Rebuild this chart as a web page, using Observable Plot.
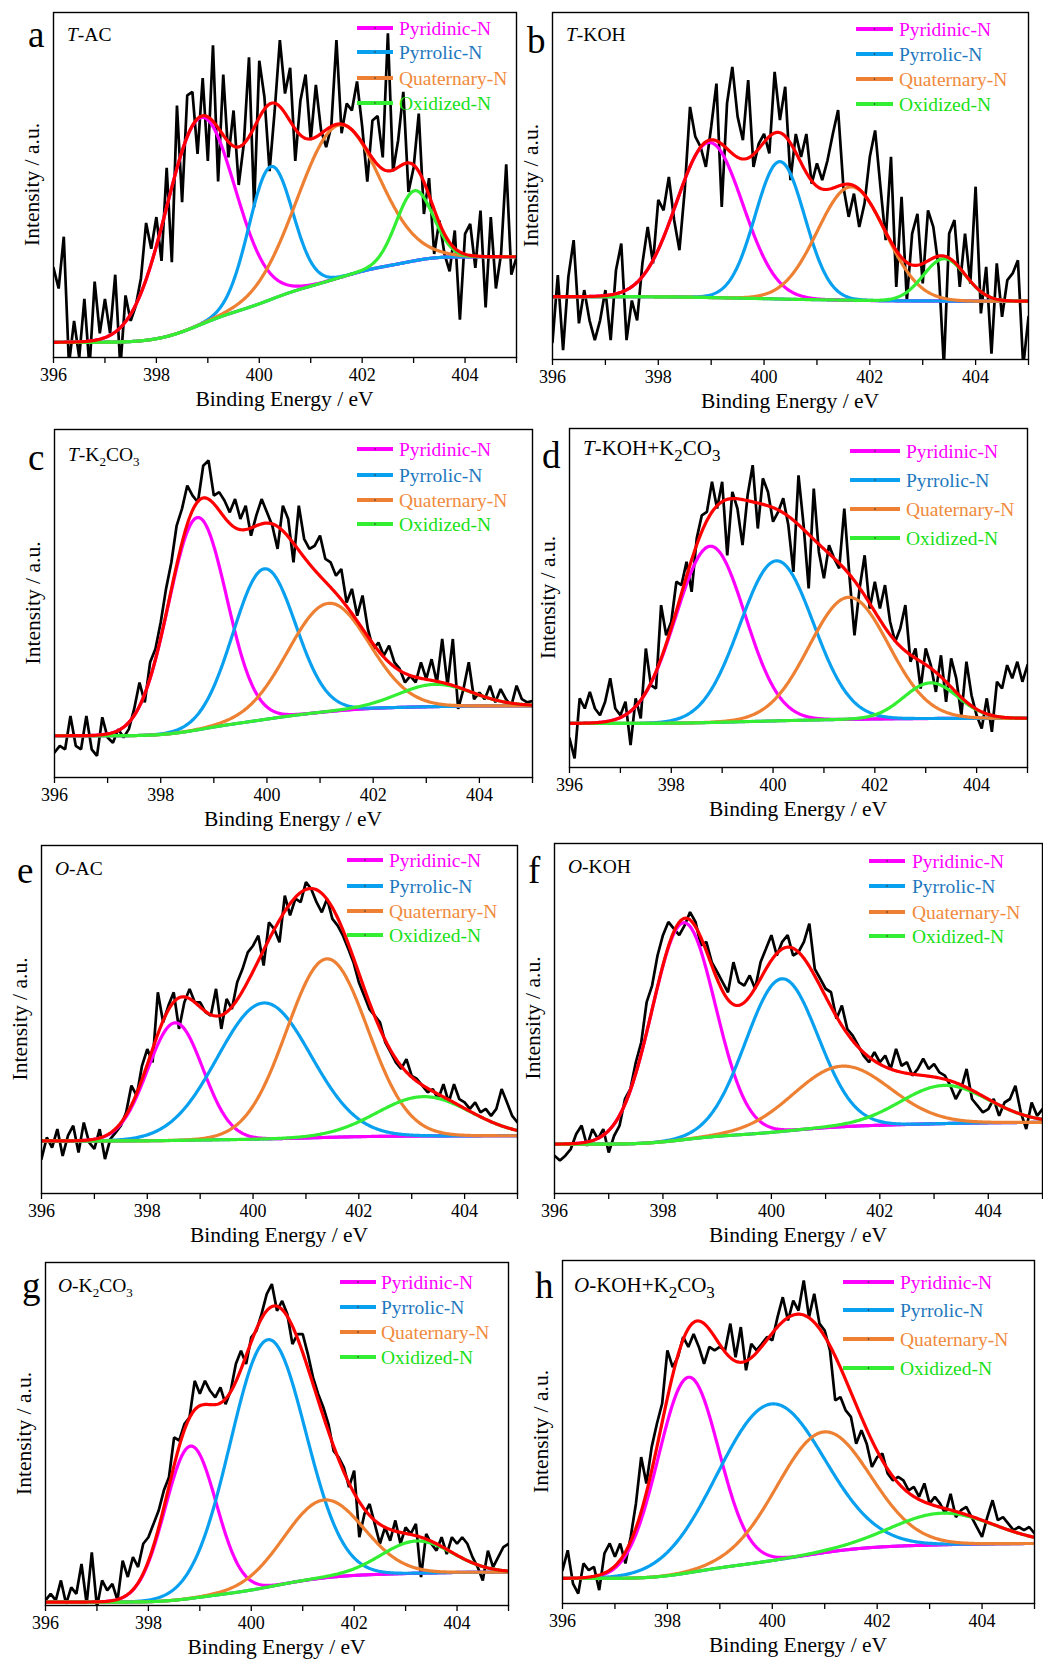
<!DOCTYPE html>
<html><head><meta charset="utf-8">
<script src="https://cdn.jsdelivr.net/npm/d3@7"></script>
<script src="https://cdn.jsdelivr.net/npm/@observablehq/plot@0.6"></script>
<style>
html,body{margin:0;padding:0;background:#fff;overflow:hidden}
#root{position:relative;width:1043px;height:1660px;background:#fff;overflow:hidden}
.panel{position:absolute}
#overlay{position:absolute;left:0;top:0;pointer-events:none}
</style></head><body><div id="root"></div>
<script>
// ---------- data ----------
const energy = [396.0,396.1,396.2,396.3,396.4,396.5,396.6,396.7,396.8,396.9,
397.0,397.1,397.2,397.3,397.4,397.5,397.6,397.7,397.8,397.9,
398.0,398.1,398.2,398.3,398.4,398.5,398.6,398.7,398.8,398.9,
399.0,399.1,399.2,399.3,399.4,399.5,399.6,399.7,399.8,399.9,
400.0,400.1,400.2,400.3,400.4,400.5,400.6,400.7,400.8,400.9,
401.0,401.1,401.2,401.3,401.4,401.5,401.6,401.7,401.8,401.9,
402.0,402.1,402.2,402.3,402.4,402.5,402.6,402.7,402.8,402.9,
403.0,403.1,403.2,403.3,403.4,403.5,403.6,403.7,403.8,403.9,
404.0,404.1,404.2,404.3,404.4,404.5,404.6,404.7,404.8,404.9,405.0];

const rawA = [26,20,35,-2,10.6,0,17,-3,22,7, 17,7,24,-3,18,10.6,15,23,39,31.5,
40.7,28,55,27.6,73,45,76,77,59,81, 57,90.5,51,82,58,71.6,50,62,87,43.6,
86,75.5,54,71.6,92,76.5,84,57,74.5,82, 63,79,66,61,67,92,65,73.6,71.6,80,
67,51,68.7,70,58,94,54,63,77,48, 55,70.7,41.6,52,30,39.7,30,25,36.8,11,
35.8,38.7,26,42.6,14.5,40.7,20,30,56,24,29];
const rawB = [5,24.3,2.7,23.8,34.4,10.4,20,11.3,5.6,11.3, 20,5.6,25.7,33.4,5.6,17,11.3,27.7,38.2,27.7,
46,43,52.6,40.2,31.5,48.8,72.8,64.2,61.3,55.5, 67,79.5,44,73.8,84.3,70,63.2,80.5,55.5,62.2,
65,59.4,82.9,69,78.6,51.7,65,58.4,65,50.7, 56.5,51.7,57.4,65,71.9,49.8,41.1,47.8,38.2,45,
58.4,66,49.8,34.4,58.4,20.9,46.9,17,36.3,42, 21.9,43,38.2,26.7,-2,36.3,40.2,20.9,36.3,21.9,
49.8,13.3,26.7,1.7,27.7,12.3,22.9,24.8,28.6,-2,12.3];
const rawC = [7.2,9.1,8.1,17.7,9.1,8.1,17.7,8.1,6.2,17.3, 11.5,10,13.9,11.5,13.9,19.7,27.3,21.6,33.1,36.9,
44.6,54.2,61.8,72.4,77.2,83.9,81,79.1,89.6,91.1, 81,82,79.6,76.2,80,74.3,78.1,69.5,75.3,80,
76.2,72.4,65.7,78.1,74.3,61.8,78.1,68.6,65.7,66.6, 69.5,62.8,61.8,58,59.9,50.3,54.2,46.5,52.3,42.7,
36.9,38.8,35,37.9,33.1,31.2,27.3,29.2,27.3,33.1, 28.3,34,27.3,39.8,26.4,39.8,19.7,25.4,33.1,22.5,
24.4,22.5,26.4,21.6,25.4,22.5,20.6,26.4,22.5,21.6,22];
const rawD = [8.6,2.7,20.4,17.4,22.3,17.4,15.4,19.4,26.3,17.4, 15.4,19.4,6.6,20.4,14.5,35.1,24.3,23.3,47.9,39,
43,54.8,53.8,60.7,51.8,67.6,74.4,75.4,84.3,76.4, 84.3,62.6,81.3,76.4,65.6,80.3,89.2,70.5,85.3,81.3,
72.5,75.4,79.4,71.5,57.7,86.2,71.5,52.8,82.3,63.6, 55.8,65.6,61.7,58.7,76.4,56.7,39,52.8,62.6,46.9,
54.8,46.9,53.8,43,37.1,41,47.9,31.2,35.1,23.3, 35.1,30.2,22.3,33.1,19.4,32.2,26.3,15.4,31.2,21.3,
15.4,11.5,20.4,10.5,25.3,23.3,30.2,26.3,31.2,25.3,30.2];
const rawE = [9.9,16.1,13.2,18.5,10.8,16.6,19.5,11.8,20.4,14.7, 12.8,18.5,9.9,15.6,17.5,19.5,23.3,31,28.1,36.7,
41.5,37.7,57.8,49.2,54,57.8,47.3,54.9,58.8,54.9, 54.9,52.1,51.1,58.8,47.3,55.9,53,60.7,64.5,69.3,
71.2,74.1,65.5,77.9,76,72.2,85.6,79.9,84.7,83.7, 89.5,87.5,83.7,80.8,84.7,78.9,77,74.1,70.3,66.4,
60.7,56.9,53,51.1,49.2,43.4,40.6,37.7,35.8,38.6, 33.8,32.9,31,29.1,30,27.1,31.4,26.2,31.4,27.1,
26.2,24.3,26.2,23.3,24.3,22.3,24.3,30,26.2,22.3,20.4];
const rawF = [10.8,9.4,10.8,12.7,17,19.4,13.6,18.4,15.6,18.4, 11.7,16.5,19.4,27,29.9,37.5,43.2,54.7,59.4,68,
73.8,77.6,75.7,73.8,76.6,80.4,77.6,70.9,71.9,66.1, 63.3,60.4,57.5,66.1,60.4,59.4,62.3,58.5,66.1,69.9,
73.8,68,71.9,73.8,68,69,71.9,77.1,64.2,61.4, 58.5,57.5,49.9,53.7,47,45.1,42.3,39.4,37.5,40.4,
37.5,39.4,35.6,41.3,36.5,37.5,33.7,35.6,38.5,35.6, 37,34.6,33.7,30.8,27,29.9,35.6,27,25.1,23.2,
24.1,27,22.2,26,27,30.8,23.2,18.4,26,22.2,24.1];
const rawG = [1.5,3.4,1.5,7.3,0.5,5.3,3.4,12.1,0.5,15.5, -0.5,7.3,4.4,6.3,1.5,13.1,8.3,14.1,11.2,18,
19.9,23.8,27.7,33.5,37.4,49,48.1,52.9,54.9,65.5, 61.7,65.5,62.6,60.7,63.6,58.7,62.6,70.4,74.3,70.4,
78.2,80.1,85,90.8,93.7,85.9,88.8,85,76.2,79.1, 79.1,73.3,66.5,61.7,57.8,52.9,45.1,43.2,40.3,34.5,
39.3,19.9,26.7,29.6,23.8,18,22.8,18.9,24.8,18, 22.8,20.9,23.8,8.3,20.9,18,16,19.9,15,19.9,
18,19.9,18,14.1,11.2,7.3,16,11.2,14.1,17,18];
const rawH = [9.7,15.5,5.8,2.9,11.7,9.7,10.7,3.9,14.6,17.5, 13.6,17.5,11.7,19.4,29.1,42.7,35,45.6,52.4,58.3,
73.8,68.9,71.8,77.7,74.8,78.6,74.8,69.9,74.8,73.8, 74.8,73.8,81.6,71.8,80.6,68,75.7,73.8,75.7,77.7,
76.7,83.5,89.3,82.5,88.3,85.4,94.2,83.5,90.3,81.6, 79.6,73.8,59.2,60.2,56.3,54.4,46.6,50.5,46.6,39.8,
42.7,43.7,37.9,35.9,36.9,35.9,33,34,31.1,35, 29.1,31.1,29.1,26.2,32,25.2,27.2,28.2,25.2,22.3,
19.4,25.2,30.1,24.3,25.2,23.3,21.4,22.3,21.4,22.3,20.4];

// fitted components (Pyridinic, Pyrrolic, Quaternary, Oxidized): centre eV, height, FWHM eV; background start/end
const centersA = [398.85,400.22,401.53,403.02], heightsA = [60,38.5,44.3,20.3], fwhmA = [1.58,1.0,1.84,0.84], bgA = [4.4,29.2];
const centersB = [398.97,400.30,401.65,403.41], heightsB = [44.7,39.6,32.7,12.2], fwhmB = [1.48,1.10,1.51,0.94], bgB = [18.1,16.8];
const centersC = [398.69,399.95,401.16,403.17], heightsC = [61,43.3,31.1,6.4], fwhmC = [1.29,1.38,1.79,1.63], bgC = [12,20.6];
const centersD = [398.77,400.07,401.49,403.10], heightsD = [52,47.2,36,10.5], fwhmD = [1.60,1.70,1.84,1.25], bgD = [13,14.5];
const centersE = [398.53,400.21,401.40,403.23], heightsE = [33.8,39.1,51.3,11.3], fwhmE = [1.23,2.08,1.80,2.08], bgE = [15.1,16.6];
const centersF = [398.38,400.19,401.30,403.19], heightsF = [62,43.6,17.3,10.9], fwhmF = [1.38,1.57,2.09,1.90], bgF = [14.1,20.3];
const centersG = [398.82,400.32,401.41,403.22], heightsG = [44.4,72.1,22.7,9.4], fwhmG = [1.17,1.72,1.81,1.62], bgG = [1.0,9.7];
const centersH = [398.40,399.97,400.97,403.25], heightsH = [57,45.7,35.2,9.2], fwhmH = [1.36,2.38,2.09,2.28], bgH = [7.3,17.5];

const componentNames = ["Pyridinic-N","Pyrrolic-N","Quaternary-N","Oxidized-N"];
const panelLetters = ["a","b","c","d","e","f","g","h"];
const samplePrefix = ["T","T","T","T","O","O","O","O"];
const sampleRest = ["-AC","-KOH","-K_2CO_3","-KOH+K_2CO_3","-AC","-KOH","-K_2CO_3","-KOH+K_2CO_3"];
const xTicks = [396,398,400,402,404];
const xMinor = [397,399,401,403,405];
const xLabel = "Binding Energy / eV";
const yLabel = "Intensity / a.u.";

// ---------- styles / layout ----------
const lineColors = ["#FF00FF","#0AA0F0","#EE8033","#33EE33"];
const textColors = ["#FF00FF","#1E78BE","#F08A3C","#18E018"];
const envColor = "#FF0000", bgColor = "#4040F0";
const FONT = "'Liberation Serif','Times New Roman',serif";
const layout = [
 {L:53,T:12,R:516,B:357, letter:[28,47], sample:[67,41], big:false, leg:{x1:357,x2:393,tx:399,rows:[28,52,78,103]}},
 {L:552,T:12,R:1028,B:359, letter:[527,53], sample:[566,41], big:false, leg:{x1:856,x2:893,tx:899,rows:[29,54,79,104]}},
 {L:54,T:429,R:532,B:777, letter:[28,470], sample:[68,461], big:false, leg:{x1:357,x2:393,tx:399,rows:[449,475,500,524]}},
 {L:569,T:428,R:1027,B:767, letter:[542,468], sample:[583,455], big:true, leg:{x1:850,x2:900,tx:906,rows:[451,480,509,538]}},
 {L:41,T:845,R:517,B:1193, letter:[17,883], sample:[55,875], big:false, leg:{x1:347,x2:383,tx:389,rows:[860,886,911,935]}},
 {L:554,T:843,R:1042,B:1193, letter:[528,883], sample:[568,873], big:false, leg:{x1:869,x2:905,tx:912,rows:[861,886,912,936]}},
 {L:45,T:1262,R:508,B:1605, letter:[22,1298], sample:[58,1292], big:false, leg:{x1:340,x2:376,tx:381,rows:[1282,1307,1332,1357]}},
 {L:562,T:1260,R:1034,B:1603, letter:[535,1298], sample:[574,1292], big:true, leg:{x1:843,x2:894,tx:900,rows:[1282,1310,1339,1368]}}
];

const panels = [
 {raw:rawA, c:centersA, h:heightsA, w:fwhmA, bg:bgA},
 {raw:rawB, c:centersB, h:heightsB, w:fwhmB, bg:bgB},
 {raw:rawC, c:centersC, h:heightsC, w:fwhmC, bg:bgC},
 {raw:rawD, c:centersD, h:heightsD, w:fwhmD, bg:bgD},
 {raw:rawE, c:centersE, h:heightsE, w:fwhmE, bg:bgE},
 {raw:rawF, c:centersF, h:heightsF, w:fwhmF, bg:bgF},
 {raw:rawG, c:centersG, h:heightsG, w:fwhmG, bg:bgG},
 {raw:rawH, c:centersH, h:heightsH, w:fwhmH, bg:bgH}
];

// evaluate the fitted model (Gaussian components on a Shirley-type background)
const grid = d3.range(0, 451).map(i => 396 + i * 0.02);
function fitCurves(p) {
  const peaks = p.c.map((c, k) => {
    const s = p.w[k] / 2.3548;
    return grid.map(x => p.h[k] * Math.exp(-0.5 * ((x - c) / s) ** 2));
  });
  const total = grid.map((x, i) => peaks.reduce((a, pk) => a + pk[i], 0));
  const cum = [0];
  for (let i = 1; i < grid.length; i++) cum.push(cum[i - 1] + (total[i] + total[i - 1]) / 2);
  const last = cum[cum.length - 1];
  const base = cum.map(v => p.bg[0] + (p.bg[1] - p.bg[0]) * v / last);
  const comps = peaks.map(pk => grid.map((x, i) => ({x, y: base[i] + pk[i]})));
  const env = grid.map((x, i) => ({x, y: base[i] + total[i]}));
  const bgl = grid.map((x, i) => ({x, y: base[i]}));
  return {comps, env, bgl};
}

const root = document.getElementById("root");
const mL = 6, mT = 6, mB = 34;

panels.forEach((p, idx) => {
  const lo = layout[idx];
  const mR = Math.min(6, 1043 - lo.R - 0.5);
  const W = lo.R - lo.L + mL + mR, H = lo.B - lo.T + mT + mB;
  const rawRows = energy.map((e, i) => ({x: e, y: p.raw[i]}));
  const f = fitCurves(p);
  const marks = [
    Plot.line(rawRows, {x: "x", y: "y", stroke: "black", strokeWidth: 2.7, strokeLinejoin: "miter", clip: true}),
    Plot.line(f.bgl, {x: "x", y: "y", stroke: bgColor, strokeWidth: 3, clip: true})
  ];
  f.comps.forEach((c, k) => marks.push(Plot.line(c, {x: "x", y: "y", stroke: lineColors[k], strokeWidth: 3.2, clip: true})));
  marks.push(Plot.line(f.env, {x: "x", y: "y", stroke: envColor, strokeWidth: 3.2, clip: true}));
  marks.push(Plot.frame({stroke: "black", strokeWidth: 1.4}));
  marks.push(Plot.axisX({ticks: xTicks, tickSize: 6, tickPadding: 5, label: null, strokeWidth: 1.3, fontSize: 18}));
  marks.push(Plot.axisX({ticks: xMinor, tickSize: 6, tickFormat: () => "", label: null, strokeWidth: 1.3}));
  const chart = Plot.plot({
    width: W, height: H,
    marginLeft: mL, marginRight: mR, marginTop: mT, marginBottom: mB,
    x: {domain: [396, 405], label: null},
    y: {domain: [0, 100], axis: null},
    style: {fontFamily: FONT, fontSize: "18px", color: "black", background: "transparent", overflow: "visible"},
    marks
  });
  chart.classList.add("panel");
  chart.style.left = (lo.L - mL) + "px";
  chart.style.top = (lo.T - mT) + "px";
  root.appendChild(chart);
});

// ---------- text overlay ----------
const svg = d3.select(root).append("svg").attr("id", "overlay")
  .attr("width", 1043).attr("height", 1660).style("font-family", FONT);

layout.forEach((lo, idx) => {
  svg.append("text").attr("x", lo.letter[0]).attr("y", lo.letter[1])
    .attr("font-size", 37).attr("fill", "black").text(panelLetters[idx]);
  const main = lo.big ? 21 : 19.5, sub = lo.big ? 17 : 13, sdy = lo.big ? 6 : 5;
  const t = svg.append("text").attr("x", lo.sample[0]).attr("y", lo.sample[1])
    .attr("font-size", main).attr("fill", "black");
  t.append("tspan").attr("font-style", "italic").text(samplePrefix[idx]);
  const parts = sampleRest[idx].split("_");
  parts.forEach((part, j) => {
    if (j === 0) { t.append("tspan").text(part); return; }
    t.append("tspan").attr("font-size", sub).attr("dy", sdy).text(part[0]);
    if (part.length > 1) t.append("tspan").attr("dy", -sdy).text(part.slice(1));
  });
  const yc = (lo.T + lo.B) / 2, xc = lo.L - 21;
  svg.append("text").attr("transform", `translate(${xc},${yc}) rotate(-90)`)
    .attr("text-anchor", "middle").attr("dominant-baseline", "central")
    .attr("font-size", 21.5).attr("fill", "black").text(yLabel);
  svg.append("text").attr("x", (lo.L + lo.R) / 2).attr("y", lo.B + 48.5)
    .attr("text-anchor", "middle").attr("font-size", 21.5).attr("fill", "black").text(xLabel);
  componentNames.forEach((name, k) => {
    const y = lo.leg.rows[k];
    svg.append("line").attr("x1", lo.leg.x1).attr("x2", lo.leg.x2).attr("y1", y).attr("y2", y)
      .attr("stroke", lineColors[k]).attr("stroke-width", 4);
    svg.append("circle").attr("cx", (lo.leg.x1 + lo.leg.x2) / 2).attr("cy", y).attr("r", 0.8).attr("fill", "#333");
    svg.append("text").attr("x", lo.leg.tx).attr("y", y + 6.5).attr("font-size", 19.5)
      .attr("fill", textColors[k]).text(name);
  });
});
</script>
</body></html>
